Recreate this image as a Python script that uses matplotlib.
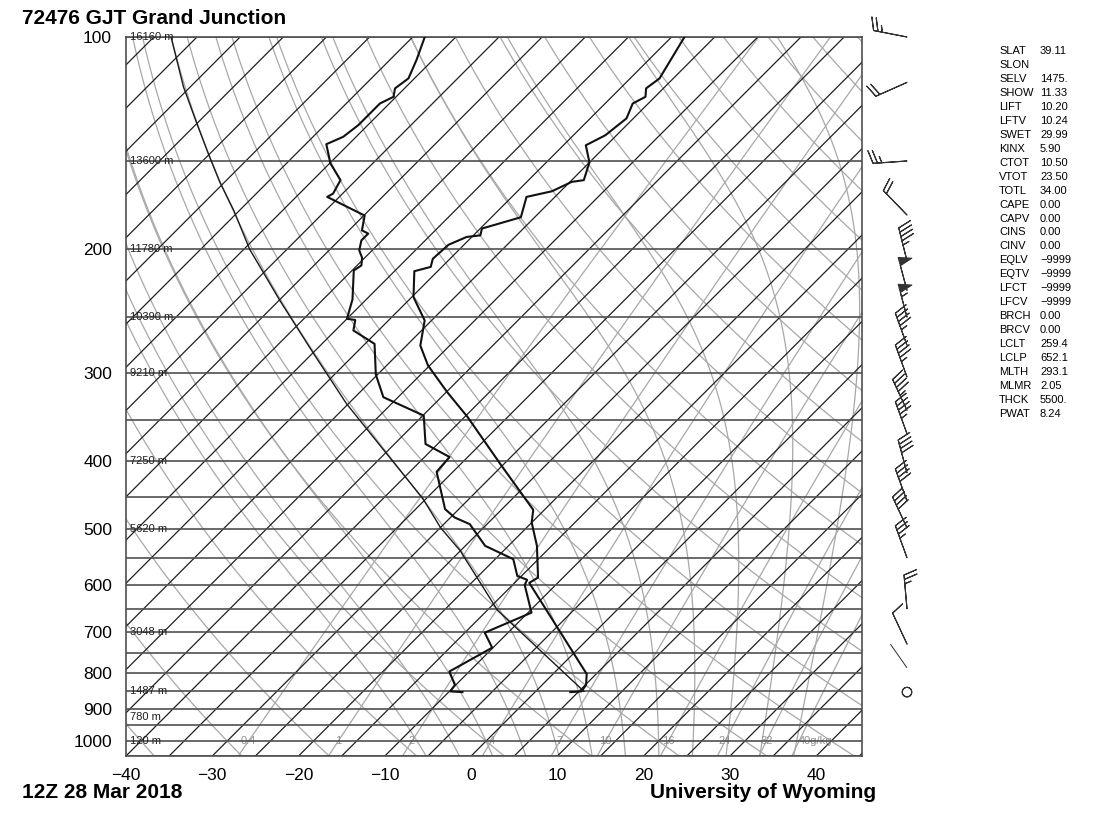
import numpy as np
import matplotlib
matplotlib.use('Agg')
import matplotlib.pyplot as plt

plt.rcParams['font.family'] = ['Liberation Sans', 'DejaVu Sans']

# observed temperature (hPa, degC)
pres_t = [100, 114.5, 118.3, 121.6, 124.3, 130.5, 137.9, 142.5, 150.7, 159.7, 160.6,
          165.6, 168.7, 180.3, 187.1, 191.3, 192.3, 197.3, 206.5, 212.1, 215.1, 234.1,
          252.7, 274.3, 292.8, 319.4, 346.8, 404.2, 469.4, 489.4, 528.1, 585.8, 596.1,
          803, 832.4, 850, 852]
temp = [-58.5, -56.6, -57.0, -56.1, -56.8, -55.8, -56.3, -57.4, -55.0, -53.6, -54.8,
        -56.0, -58.3, -56.6, -59.8, -59.2, -60.6, -61.8, -62.0, -61.3, -62.7, -59.8,
        -55.8, -53.4, -50.2, -44.9, -39.6, -30.4, -21.3, -20.0, -16.7, -12.9, -13.3,
        3.9, 5.1, 5.3, 4.1]

# observed dewpoint (hPa, degC)
pres_td = [100, 107.8, 114.5, 118.3, 121.6, 124.3, 133.4, 138.6, 142.0, 151.2, 159.7,
           166.9, 168.7, 179.3, 188.2, 190.2, 194.5, 200.9, 205.9, 211.1, 214.6, 235.9,
           251.3, 252.3, 261.1, 272.8, 301.6, 324.8, 344.9, 378.5, 395.0, 414.5, 468.3,
           481.4, 491.9, 528.1, 551.6, 582.6, 590.2, 600, 657, 701.5, 736.8, 796.5,
           832.4, 850, 852]
dwpt = [-88.6, -86.9, -85.7, -86.1, -85.3, -86.1, -86.1, -86.5, -87.6, -84.9, -81.8,
        -81.1, -81.4, -74.9, -73.5, -72.4, -72.4, -71.5, -70.3, -69.5, -69.8, -66.6,
        -65.0, -63.9, -62.9, -58.9, -55.2, -51.7, -44.9, -41.4, -37.1, -36.9, -31.6,
        -29.5, -27.0, -22.7, -17.9, -15.5, -13.9, -13.6, -9.6, -12.7, -10.1, -12.3,
        -10.1, -9.9, -8.4]

# lifted parcel path
pres_parcel = [850, 652.1, 536.8, 497.4, 453.1, 391.2, 331.9, 281.8, 236.7, 200.3,
               176.2, 160.6, 146.4, 132.7, 117.7, 100]
temp_parcel = [5.6, -13.8, -25.0, -30.0, -35.3, -44.7, -55.2, -64.8, -74.9, -84.3,
               -90.7, -95.6, -100.2, -105.0, -110.8, -118.0]

# winds (hPa, deg, knots)
pres_wind = [100, 116, 150, 179, 208, 229, 250, 274, 304, 339, 366, 416, 456, 498,
             549, 649, 728, 787, 852]
wdir = [281, 246, 266, 316, 346, 345, 345, 340, 340, 335, 340, 345, 340, 335,
        340, 355, 335, 325, 0]
wspd = [25, 20, 25, 20, 45, 50, 55, 45, 45, 45, 45, 40, 40, 40,
        35, 25, 10, 2, 0]

height_p = [100, 150, 200, 250, 300, 400, 500, 700, 850, 925, 1000]
height_lbl = ['16160 m', '13600 m', '11780 m', '10390 m', '9210 m', '7250 m',
              '5620 m', '3048 m', '1487 m', '780 m', '120 m']

mixr = [0.4, 1, 2, 4, 7, 10, 16, 24, 32, 40]
mixr_lbl = ['0.4', '1', '2', '4', '7', '10', '16', '24', '32', '40g/kg']

stat_names = ['SLAT', 'SLON', 'SELV', 'SHOW', 'LIFT', 'LFTV', 'SWET', 'KINX', 'CTOT',
              'VTOT', 'TOTL', 'CAPE', 'CAPV', 'CINS', 'CINV', 'EQLV', 'EQTV', 'LFCT',
              'LFCV', 'BRCH', 'BRCV', 'LCLT', 'LCLP', 'MLTH', 'MLMR', 'THCK', 'PWAT']
stat_vals = ['39.11', '', '1475.', '11.33', '10.20', '10.24', '29.99', '5.90', '10.50',
             '23.50', '34.00', '0.00', '0.00', '0.00', '0.00', '\u22129999', '\u22129999',
             '\u22129999', '\u22129999', '0.00', '0.00', '259.4', '652.1', '293.1',
             '2.05', '5500.', '8.24']

SKEW = 81.5
P_BOT, P_TOP = 1050., 100.


def skew(t, p):
    return np.asarray(t, float) + SKEW * np.log10(P_BOT / np.asarray(p, float))


def moist(t1000, p):
    # pseudo-adiabat integrated from 1000 hPa
    Rd, cp, Lv, eps = 287.04, 1005.7, 2.501e6, 0.622

    def f(pp, T):
        tc = T - 273.15
        es = 6.112 * np.exp(17.67 * tc / (tc + 243.5))
        rs = eps * es / (pp - es)
        return (Rd * T + Lv * rs) / (pp * (cp + Lv * Lv * rs * eps / (Rd * T * T)))

    out = {}
    for direction in (-1, 1):
        T = t1000 + 273.15
        pp = 1000.
        dp = 2. * direction
        while P_TOP - 1 <= pp <= P_BOT + 1:
            out[pp] = T
            k1 = f(pp, T)
            k2 = f(pp + dp / 2, T + dp / 2 * k1)
            k3 = f(pp + dp / 2, T + dp / 2 * k2)
            k4 = f(pp + dp, T + dp * k3)
            T += dp / 6 * (k1 + 2 * k2 + 2 * k3 + k4)
            pp += dp
    ps = np.array(sorted(out))
    return ps, np.array([out[x] for x in ps]) - 273.15


fig = plt.figure(figsize=(10.99, 8.25), dpi=100)
ax = fig.add_axes([126 / 1099, 1 - 756 / 825, 736 / 1099, 719 / 825])
ax.set_yscale('log')
ax.set_ylim(P_BOT, P_TOP)
ax.set_xlim(-40, 45.3)

plev = np.geomspace(P_BOT, P_TOP, 200)
grey = '#a8a8a8'

# isotherms
for t in range(-125, 50, 5):
    ax.plot(skew(np.full_like(plev, t), plev), plev, color='#202020', lw=0.9, zorder=2)

# dry adiabats
for t0 in range(-40, 200, 10):
    th = t0 + 273.15
    ax.plot(skew(th * (plev / 1000.) ** 0.2857 - 273.15, plev), plev, color=grey, lw=0.9, zorder=1)

# moist adiabats
for t0 in range(-8, 40, 4):
    pm, tm = moist(t0, plev)
    ax.plot(skew(tm, pm), pm, color=grey, lw=0.9, zorder=1)

# mixing ratio lines
for w, lbl in zip(mixr, mixr_lbl):
    e = w * plev / (622. + w)
    lg = np.log(e / 6.112)
    td = 243.5 * lg / (17.67 - lg)
    ax.plot(skew(td, plev), plev, color=grey, lw=0.9, zorder=1)
    e0 = w * 1000. / (622. + w)
    lg0 = np.log(e0 / 6.112)
    x0 = skew(243.5 * lg0 / (17.67 - lg0), 1000.)
    ax.text(x0, 1000, lbl, color='#909090', fontsize=8, ha='left' if lbl.endswith('kg') else 'center',
            va='center', zorder=3)

# isobars
for p in range(100, 1051, 50):
    ax.axhline(p, color='#505050', lw=1.2, zorder=3)

for p, lbl in zip(height_p, height_lbl):
    ax.text(-39.55, p, lbl, fontsize=8, ha='left', va='center', color='#202020', zorder=4)

# profiles
ax.plot(skew(temp_parcel, pres_parcel), pres_parcel, color='#1a1a1a', lw=1.0, zorder=5)
ax.plot(skew(temp, pres_t), pres_t, color='#111111', lw=1.5, zorder=6)
ax.plot(skew(dwpt, pres_td), pres_td, color='#111111', lw=1.5, zorder=6)

ax.set_yticks([100, 200, 300, 400, 500, 600, 700, 800, 900, 1000])
ax.set_yticklabels(['100', '200', '300', '400', '500', '600', '700', '800', '900', '1000'])
ax.minorticks_off()
ax.set_xticks(range(-40, 41, 10))
ax.set_xticklabels([str(v).replace('-', '\u2212') for v in range(-40, 41, 10)])
ax.tick_params(axis='both', length=0, labelsize=12.5)
ax.tick_params(axis='y', pad=10)
ax.tick_params(axis='x', pad=9)
for s in ax.spines.values():
    s.set_color('#404040')
    s.set_linewidth(1.1)

# wind barbs
axw = fig.add_axes([870 / 1099, 1 - 756 / 825, 80 / 1099, 719 / 825])
axw.set_yscale('log')
axw.set_ylim(P_BOT, P_TOP)
axw.set_xlim(0, 80)
axw.axis('off')
pw = np.array(pres_wind, float)
sp = np.array(wspd, float)
rad = np.radians(wdir)
u = -sp * np.sin(rad)
v = -sp * np.cos(rad)
strong = (sp >= 5) | (sp == 0)
axw.barbs(np.full(strong.sum(), 37.), pw[strong], u[strong], v[strong], length=7, lw=0.8,
          color='#333333', sizes=dict(emptybarb=0.14, spacing=0.13, height=0.38), clip_on=False)
# light winds: bare staff
light = ~strong
axw.quiver(np.full(light.sum(), 37.), pw[light], np.sin(rad[light]), np.cos(rad[light]),
           angles='uv', scale_units='inches', scale=1 / 0.29, pivot='tail', units='dots',
           width=1.0, headwidth=0, headlength=0, headaxislength=0, color='#333333')

# titles
fig.text(22 / 1099, 1 - 18 / 825, '72476 GJT Grand Junction', fontsize=15, fontweight='bold', va='center')
fig.text(22 / 1099, 1 - 793 / 825, '12Z 28 Mar 2018', fontsize=15, fontweight='bold', va='center')
fig.text(876 / 1099, 1 - 793 / 825, 'University of Wyoming', fontsize=15, fontweight='bold',
         va='center', ha='right')

for i, (n, val) in enumerate(zip(stat_names, stat_vals)):
    y = 1 - (51 + i * 13.96) / 825
    fig.text(999 / 1099, y, n, fontsize=8, va='center')
    fig.text(1040 / 1099, y, val, fontsize=8, va='center')

fig.savefig('out.png', dpi=100)
